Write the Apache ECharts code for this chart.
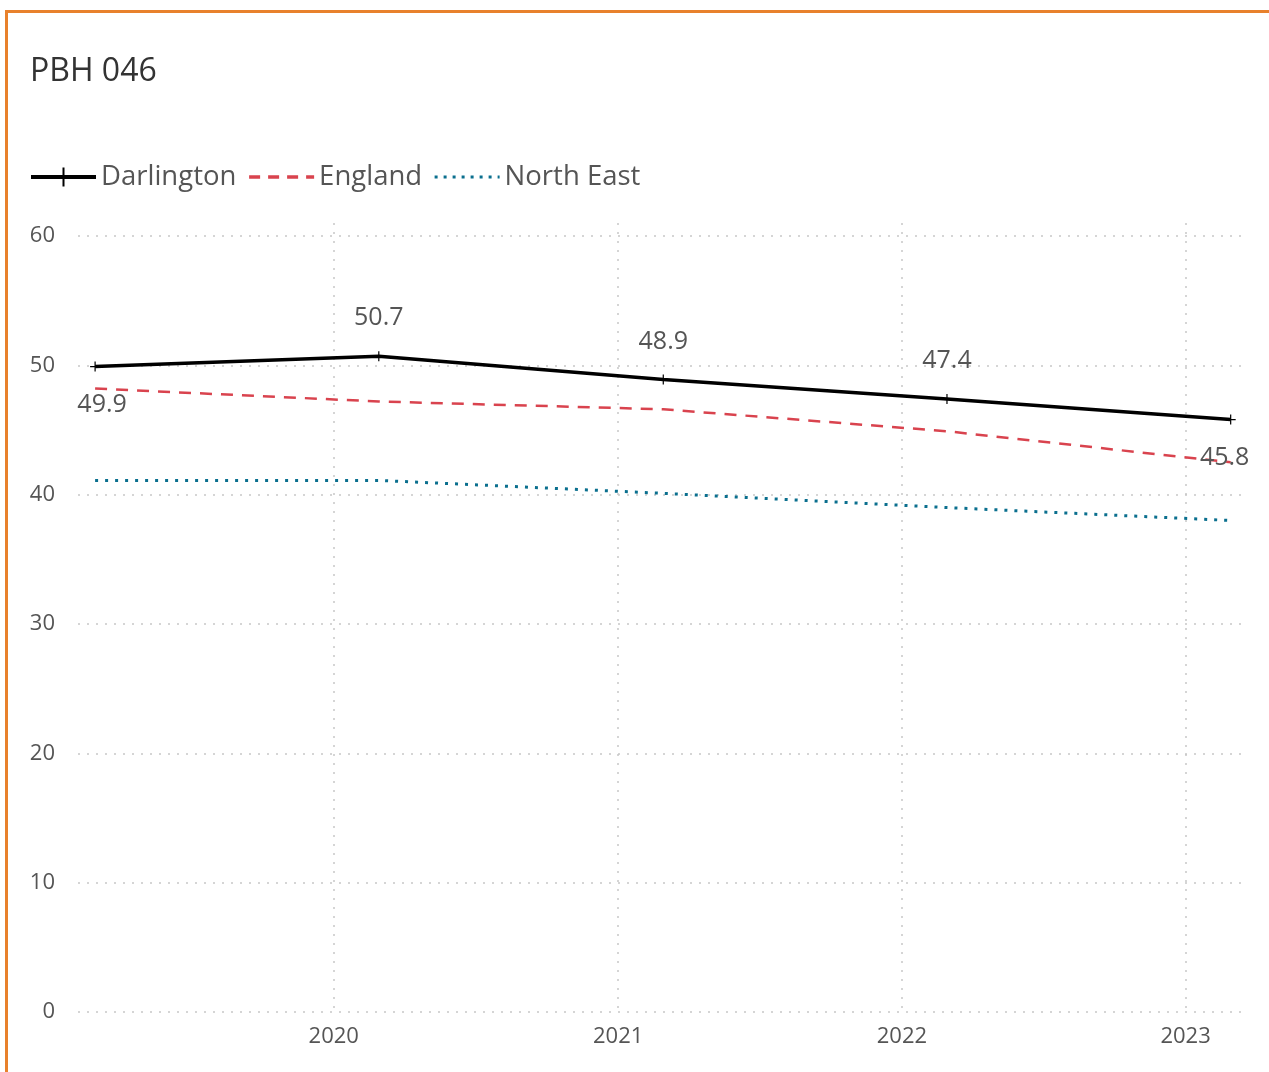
<!DOCTYPE html>
<html>
<head>
<meta charset="utf-8">
<script src="https://cdn.jsdelivr.net/npm/echarts@6/dist/echarts.min.js"></script>
<style>
  html, body { margin: 0; padding: 0; background: #fff; overflow: hidden; }
  #frame { position: absolute; left: 5px; top: 10px; width: 1400px; height: 1200px;
    border-left: 3px solid #E8812C; border-top: 3px solid #E8812C; }
  #chart { position: absolute; left: 0; top: 0; width: 1269px; height: 1072px; }
</style>
</head>
<body>
<div id="frame"></div>
<div id="chart"></div>
<script>
// period dates for each reading
const dates = ['2019-02-28', '2020-02-28', '2021-02-28', '2022-02-28', '2023-02-28']
const darlington = [49.9, 50.7, 48.9, 47.4, 45.8]
const england = [48.2, 47.2, 46.6, 44.9, 42.5]
const northEast = [41.1, 41.1, 40.1, 39.0, 38.0]

const font = '"Open Sans", "Noto Sans", sans-serif'
const year = 365 * 24 * 3600 * 1000
const hidden = { color: 'rgba(0,0,0,0)', borderColor: 'rgba(0,0,0,0)', borderWidth: 0 }
const gridLine = { color: '#c8c8c8', type: [2, 7], width: 1.5 }

const chart = echarts.init(document.getElementById('chart'))

const pairs = arr => arr.map((v, i) => [dates[i], v])

chart.setOption({
  animation: false,
  textStyle: { fontFamily: font },
  title: {
    text: 'PBH 046',
    left: 25,
    top: 51,
    textStyle: { fontSize: 32, fontWeight: 'normal', color: '#333', fontFamily: font }
  },
  legend: {
    left: 24,
    top: 158,
    itemWidth: 65,
    itemHeight: 24,
    itemGap: 11,
    textStyle: { fontSize: 27.5, color: '#555', fontFamily: font },
    data: [
      { name: 'Darlington', lineStyle: { width: 4 } },
      { name: 'England', itemStyle: hidden, lineStyle: { width: 3.5, type: [11, 8] } },
      { name: 'North East', itemStyle: hidden, lineStyle: { width: 3, type: [3, 6] } }
    ]
  },
  grid: {
    left: 78,
    right: 22,
    top: 223,
    bottom: 60
  },
  xAxis: {
    type: 'time',
    min: '2019-02-06',
    max: '2023-03-21',
    minInterval: year,
    maxInterval: year,
    axisLine: { show: false },
    axisTick: { show: false },
    axisLabel: {
      fontSize: 22,
      color: '#555',
      margin: 14,
      showMinLabel: false,
      showMaxLabel: false,
      formatter: v => String(new Date(v).getFullYear())
    },
    splitLine: {
      show: true,
      showMinLine: false,
      showMaxLine: false,
      lineStyle: gridLine
    }
  },
  yAxis: {
    type: 'value',
    min: 0,
    max: 61,
    interval: 10,
    axisLine: { show: false },
    axisTick: { show: false },
    axisLabel: { fontSize: 22, color: '#555', margin: 23, showMaxLabel: false },
    splitLine: {
      show: true,
      showMaxLine: false,
      lineStyle: gridLine
    }
  },
  series: [
    {
      name: 'Darlington',
      type: 'line',
      data: pairs(darlington).map((p, i) => {
        const first = i === 0
        const last = i === darlington.length - 1
        return {
          value: p,
          label: {
            position: (first || last) ? 'bottom' : 'top',
            offset: first ? [7, 0] : last ? [-6, 0] : [0, 0]
          }
        }
      }),
      symbol: 'path://M0,5L10,5M5,0L5,10',
      symbolSize: 10,
      showAllSymbol: true,
      itemStyle: { color: 'none', borderColor: '#000', borderWidth: 1.2 },
      lineStyle: { color: '#000', width: 3.5 },
      label: {
        show: true,
        fontSize: 25,
        color: '#555',
        distance: 18,
        fontFamily: font
      },
      z: 3
    },
    {
      name: 'England',
      type: 'line',
      data: pairs(england),
      symbol: 'none',
      itemStyle: { color: '#D9434E' },
      lineStyle: { color: '#D9434E', width: 2.5, type: [12, 9] },
      z: 2
    },
    {
      name: 'North East',
      type: 'line',
      data: pairs(northEast),
      symbol: 'none',
      itemStyle: { color: '#0A6F8E' },
      lineStyle: { color: '#0A6F8E', width: 3, type: [3, 7] },
      z: 2
    }
  ]
})
</script>
</body>
</html>
